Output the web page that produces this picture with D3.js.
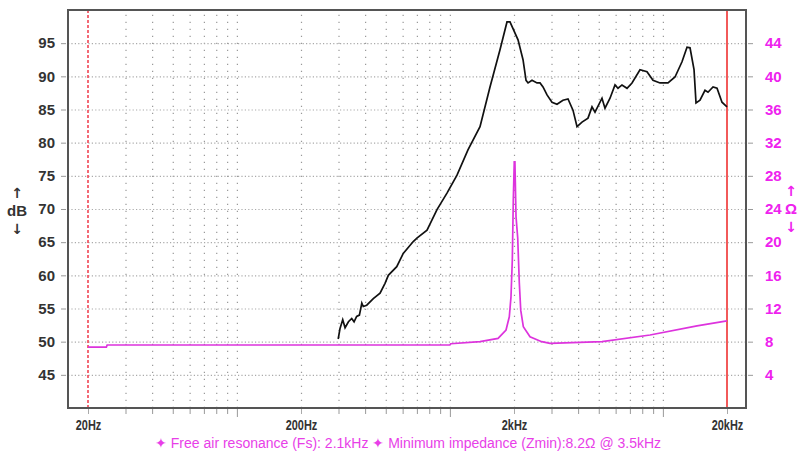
<!DOCTYPE html>
<html lang="en">
<head>
  <meta charset="UTF-8">
  <title>Frequency response and impedance</title>
  <style type="text/css">
    body { margin: 0; background: #fff; }
    svg text { font-family: "Liberation Sans", Arial, sans-serif; }
    .arrow { font-family: "DejaVu Sans", sans-serif !important; }
  </style>
</head>
<body>
<div id="chart"></div>
<script src="https://cdn.jsdelivr.net/npm/d3@7"></script>
<script type="text/javascript">
  // SPL curve (Hz, dB)
  var splFreq = [299, 305, 314, 322, 334, 346, 355, 365, 376, 386, 392, 407, 437, 470, 496, 514, 563, 604, 673, 700,
    781, 870, 969, 1080, 1216, 1385, 1543, 1719, 1854, 1915, 2089, 2205, 2278, 2328, 2430, 2565, 2650, 2737, 2858,
    3016, 3184, 3396, 3586, 3784, 3953, 4172, 4451, 4648, 4801, 5178, 5348, 5647, 5960, 6156, 6428, 6786, 7162,
    7808, 8422, 8986, 9693, 10568, 11400, 12296, 12981, 13410, 14003, 14308, 14936, 15766, 16286, 17196, 17956,
    18946, 20000];
  var splDb = [50.4, 52.0, 53.3, 52.1, 53.0, 53.5, 53.0, 53.8, 54.0, 55.8, 55.3, 55.5, 56.5, 57.3, 58.8, 60.0, 61.3, 63.3, 65.1, 65.6,
    66.8, 69.9, 72.4, 75.1, 78.9, 82.4, 88.4, 94.0, 98.2, 98.2, 95.5, 92.5, 89.4, 89.0, 89.4, 89.0, 89.0, 88.4, 87.2,
    86.1, 85.8, 86.4, 86.6, 84.9, 82.4, 83.1, 83.7, 85.4, 84.6, 86.7, 85.2, 86.7, 88.7, 88.2, 88.7, 88.2, 89.0,
    91.0, 90.7, 89.4, 89.0, 89.0, 89.9, 92.2, 94.4, 94.3, 91.0, 86.0, 86.4, 87.9, 87.6, 88.4, 88.2,
    86.1, 85.4];

  // impedance curve (Hz, ohm)
  var impFreq = [20, 24.4, 24.6, 1000, 1010, 1385, 1683, 1835, 1901, 1936, 1964, 1985, 2006, 2020, 2044, 2082, 2118,
    2151, 2212, 2378, 2698, 2952, 5178, 8700, 14462, 20000];
  var impOhm = [7.35, 7.35, 7.6, 7.6, 7.75, 8.0, 8.4, 9.4, 11.0, 13.4, 17.9, 25.1, 29.7, 29.7, 23.1, 20.5, 15.1,
    11.8, 9.8, 8.6, 8.0, 7.8, 8.0, 8.8, 9.9, 10.5];

  var dbTicks = [45, 50, 55, 60, 65, 70, 75, 80, 85, 90, 95];
  var ohmTicks = [4, 8, 12, 16, 20, 24, 28, 32, 36, 40, 44];
  var freqLabels = [20, 200, 2000, 20000];
  var freqLabelText = ["20Hz", "200Hz", "2kHz", "20kHz"];
  var freqMinor = [30, 40, 50, 60, 70, 80, 90, 300, 400, 500, 600, 700, 800, 900, 3000, 4000, 5000, 6000, 7000, 8000, 9000];
  var freqDecade = [100, 1000, 10000];
  var footerText = "\u2726 Free air resonance (Fs): 2.1kHz \u2726 Minimum impedance (Zmin):8.2\u03a9 @ 3.5kHz";

  var W = 803, H = 456;
  // plot frame (note: "top" is reserved on window, so pT/pB)
  var pL = 68, pR = 746, pT = 10, pB = 408;

  var svg = d3.select("#chart").append("svg").attr("width", W).attr("height", H);
  svg.append("rect").attr("width", W).attr("height", H).attr("fill", "#fff");

  var x = d3.scaleLog().domain([20, 20000]).range([88, 727]);
  var y = d3.scaleLinear().domain([40, 100]).range([pB, pT]);
  var yR = d3.scaleLinear().domain([0, 48]).range([pB, pT]);

  // dotted grid
  var gridX = svg.append("g").attr("transform", "translate(0," + pB + ")")
    .call(d3.axisBottom(x).tickValues(freqMinor.concat(freqDecade, [200, 2000])).tickSize(-(pB - pT)).tickFormat(""));
  gridX.select(".domain").remove();
  gridX.selectAll("line").attr("stroke", "#999").attr("stroke-width", 1.2).attr("stroke-dasharray", "1.2,5.8");

  var gridY = svg.append("g").attr("transform", "translate(" + pL + ",0)")
    .call(d3.axisLeft(y).tickValues(dbTicks).tickSize(-(pR - pL)).tickFormat(""));
  gridY.select(".domain").remove();
  gridY.selectAll("line").attr("stroke", "#aaa").attr("stroke-width", 1.1).attr("stroke-dasharray", "1.2,2.2");

  // red limit lines
  svg.append("line").attr("x1", x(20)).attr("x2", x(20)).attr("y1", pT).attr("y2", pB)
    .attr("stroke", "#f03848").attr("stroke-width", 1.5).attr("stroke-dasharray", "3,2");
  svg.append("line").attr("x1", x(20000)).attr("x2", x(20000)).attr("y1", pT).attr("y2", pB)
    .attr("stroke", "#f25a5a").attr("stroke-width", 2);

  // curves
  var imp = impFreq.map(function(f, i) { return [f, impOhm[i]]; });
  var spl = splFreq.map(function(f, i) { return [f, splDb[i]]; });

  svg.append("path").datum(imp)
    .attr("d", d3.line().x(function(d) { return x(d[0]); }).y(function(d) { return yR(d[1]); }))
    .attr("fill", "none").attr("stroke", "#dd33dd").attr("stroke-width", 1.7);

  svg.append("path").datum(spl)
    .attr("d", d3.line().x(function(d) { return x(d[0]); }).y(function(d) { return y(d[1]); }))
    .attr("fill", "none").attr("stroke", "#111").attr("stroke-width", 1.7);

  // frame
  svg.append("rect").attr("x", pL).attr("y", pT).attr("width", pR - pL).attr("height", pB - pT)
    .attr("fill", "none").attr("stroke", "#555").attr("stroke-width", 2);

  // left axis
  var yAx = svg.append("g").attr("transform", "translate(" + (pL - 2) + ",0)")
    .call(d3.axisLeft(y).tickValues(dbTicks).tickSize(5).tickPadding(6));
  yAx.select(".domain").remove();
  yAx.selectAll("line").attr("stroke", "#999");
  yAx.selectAll("text").attr("fill", "#333").attr("font-size", 15).attr("font-weight", "bold")
    .style("font-family", "'Liberation Sans', Arial, sans-serif");

  // right axis
  var yRAx = svg.append("g").attr("transform", "translate(" + (pR + 2) + ",0)")
    .call(d3.axisRight(yR).tickValues(ohmTicks).tickSize(5).tickPadding(12));
  yRAx.select(".domain").remove();
  yRAx.selectAll("line").attr("stroke", "#999");
  yRAx.selectAll("text").attr("fill", "#ee22ee").attr("font-size", 15).attr("font-weight", "bold")
    .style("font-family", "'Liberation Sans', Arial, sans-serif");

  // bottom axis: minor ticks, decade ticks, labelled ticks
  var xMin = svg.append("g").attr("transform", "translate(0," + (pB + 1) + ")")
    .call(d3.axisBottom(x).tickValues(freqMinor).tickSize(5).tickFormat(""));
  xMin.select(".domain").remove();
  xMin.selectAll("line").attr("stroke", "#999");

  var xDec = svg.append("g").attr("transform", "translate(0," + (pB + 1) + ")")
    .call(d3.axisBottom(x).tickValues(freqDecade).tickSize(8).tickFormat(""));
  xDec.select(".domain").remove();
  xDec.selectAll("line").attr("stroke", "#999");

  var xLab = svg.append("g").attr("transform", "translate(0," + (pB + 1) + ")")
    .call(d3.axisBottom(x).tickValues(freqLabels).tickSize(5).tickPadding(6)
      .tickFormat(function(d, i) { return freqLabelText[i]; }));
  xLab.select(".domain").remove();
  xLab.selectAll("line").attr("stroke", "#aaa");
  // narrow lettering like the original
  xLab.selectAll("text").attr("fill", "#333").attr("font-size", 14).attr("font-weight", "bold")
    .attr("transform", "scale(0.78,1)")
    .style("font-family", "'Liberation Sans', Arial, sans-serif");

  // axis unit labels
  var unitL = svg.append("g").attr("fill", "#333").attr("font-size", 15).attr("font-weight", "bold").attr("text-anchor", "middle");
  unitL.append("text").attr("class", "arrow").attr("x", 17).attr("y", 198).attr("font-size", 14).text("\u2191");
  unitL.append("text").attr("x", 17).attr("y", 216).text("dB");
  unitL.append("text").attr("class", "arrow").attr("x", 17).attr("y", 234).attr("font-size", 14).text("\u2193");

  var unitR = svg.append("g").attr("fill", "#ee22ee").attr("font-size", 15).attr("font-weight", "bold").attr("text-anchor", "middle");
  unitR.append("text").attr("class", "arrow").attr("x", 791).attr("y", 196).attr("font-size", 14).text("\u2191");
  unitR.append("text").attr("x", 791).attr("y", 214).text("\u03a9");
  unitR.append("text").attr("class", "arrow").attr("x", 791).attr("y", 232).attr("font-size", 14).text("\u2193");

  // footer
  svg.append("text").attr("x", 408).attr("y", 448).attr("text-anchor", "middle")
    .attr("fill", "#e83ee8").attr("font-size", 14).text(footerText);
</script>
</body>
</html>
